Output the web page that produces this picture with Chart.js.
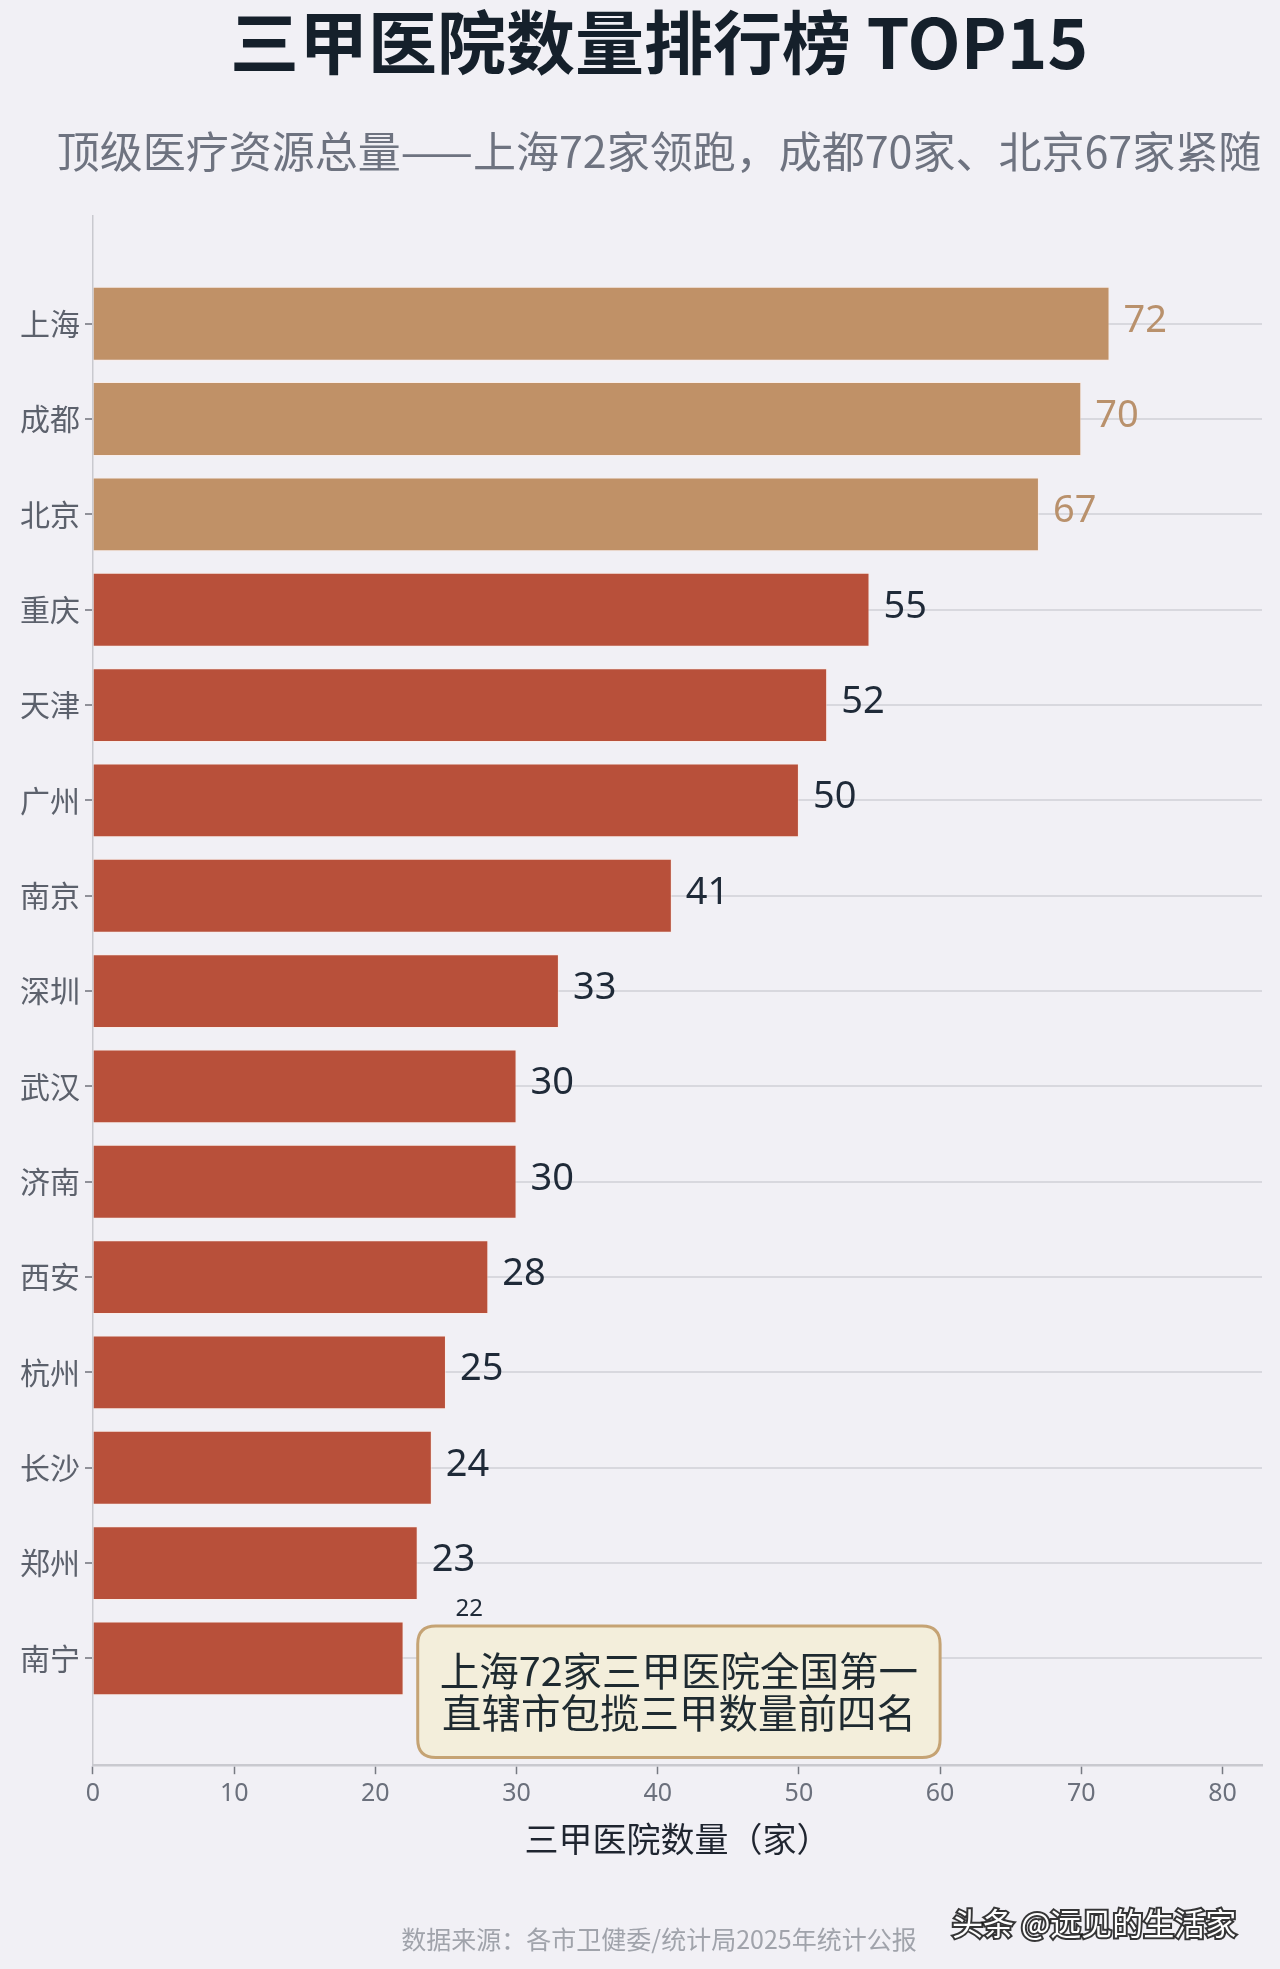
<!DOCTYPE html>
<html>
<head>
<meta charset="utf-8">
<script src="https://cdn.jsdelivr.net/npm/chart.js@4.4.1/dist/chart.umd.min.js"></script>
<style>
    body { margin: 0; background: #f1f0f5; }
    #chart { display: block; }
</style>
</head>
<body>
<canvas id="chart" width="1280" height="1969"></canvas>
<script>
// 数据
const cities = ["上海", "成都", "北京", "重庆", "天津", "广州", "南京", "深圳", "武汉", "济南", "西安", "杭州", "长沙", "郑州", "南宁"];
const hospitals = [72, 70, 67, 55, 52, 50, 41, 33, 30, 30, 28, 25, 24, 23, 22];
const xTicks = [0, 10, 20, 30, 40, 50, 60, 70, 80];
const highlightCount = 3;

const titleText = "三甲医院数量排行榜 TOP15";
const subtitleText = "顶级医疗资源总量——上海72家领跑，成都70家、北京67家紧随";
const noteLines = ["上海72家三甲医院全国第一", "直辖市包揽三甲数量前四名"];
const sourceText = "数据来源：各市卫健委/统计局2025年统计公报";
const markText = "头条 @远见的生活家";

const FONT = "'Noto Sans', 'Noto Sans CJK SC', sans-serif";
const CJK = "'Noto Sans CJK SC', 'Noto Sans', sans-serif";
const tan = "#c09167";
const red = "#b8503a";

function roundRect(ctx, x, y, w, h, r) {
    ctx.beginPath();
    ctx.moveTo(x + r, y);
    ctx.lineTo(x + w - r, y);
    ctx.quadraticCurveTo(x + w, y, x + w, y + r);
    ctx.lineTo(x + w, y + h - r);
    ctx.quadraticCurveTo(x + w, y + h, x + w - r, y + h);
    ctx.lineTo(x + r, y + h);
    ctx.quadraticCurveTo(x, y + h, x, y + h - r);
    ctx.lineTo(x, y + r);
    ctx.quadraticCurveTo(x, y, x + r, y);
    ctx.closePath();
}

// 标题、数值、注释框、来源
const decorations = {
    id: "decorations",
    beforeDraw(chart) {
        const ctx = chart.ctx;
        ctx.save();
        ctx.fillStyle = "#f1f0f5";
        ctx.fillRect(0, 0, chart.width, chart.height);
        ctx.textAlign = "center";
        ctx.textBaseline = "middle";
        ctx.fillStyle = "#15202b";
        ctx.font = "bold 69px " + CJK;
        ctx.fillText(titleText, 659, 43);
        ctx.fillStyle = "#6e7380";
        ctx.font = "43px " + CJK;
        ctx.fillText(subtitleText, 659, 152);
        ctx.restore();
    },
    afterDatasetsDraw(chart) {
        const ctx = chart.ctx;
        const meta = chart.getDatasetMeta(0);
        const xs = chart.scales.x;
        const ys = chart.scales.y;
        ctx.save();
        ctx.textBaseline = "middle";
        ctx.textAlign = "left";
        meta.data.forEach((bar, i) => {
            ctx.fillStyle = i < highlightCount ? "#b9916c" : "#1f2a38";
            if (i === meta.data.length - 1) {
                // 被注释框挡住，放到上方
                ctx.font = "24px " + FONT;
                ctx.fillText(hospitals[i], bar.x + 52, bar.y - 49);
            } else {
                ctx.font = "38px " + FONT;
                ctx.fillText(hospitals[i], bar.x + 14, bar.y - 3);
            }
        });

        // 注释框
        const left = xs.getPixelForValue(23);
        const right = xs.getPixelForValue(60);
        const top = ys.getPixelForValue(13.66);
        const bottom = ys.getPixelForValue(15.04);
        roundRect(ctx, left, top, right - left, bottom - top, 18);
        ctx.fillStyle = "#f3eedb";
        ctx.fill();
        ctx.lineWidth = 3;
        ctx.strokeStyle = "#c5a374";
        ctx.stroke();
        ctx.fillStyle = "#1e2a30";
        ctx.textAlign = "center";
        ctx.font = "39.5px " + CJK;
        const cx = (left + right) / 2;
        const cy = (top + bottom) / 2;
        ctx.fillText(noteLines[0], cx, cy - 21);
        ctx.fillText(noteLines[1], cx, cy + 21);
        ctx.restore();
    },
    afterDraw(chart) {
        const ctx = chart.ctx;
        ctx.save();
        ctx.textBaseline = "middle";
        ctx.textAlign = "center";
        ctx.fillStyle = "#a0a3ab";
        ctx.font = "25px " + CJK;
        ctx.fillText(sourceText, 659, 1939);

        // 水印
        ctx.textAlign = "left";
        ctx.font = "31px " + CJK;
        ctx.lineWidth = 4;
        ctx.strokeStyle = "rgba(20,20,20,0.85)";
        ctx.strokeText(markText, 952, 1923);
        ctx.fillStyle = "#ffffff";
        ctx.fillText(markText, 952, 1923);
        ctx.restore();
    }
};

const chartDOM = document.getElementById("chart").getContext("2d");

const data = {
    datasets: [{
        data: hospitals.map((v, i) => ({ x: v, y: i })),
        backgroundColor: hospitals.map((v, i) => i < highlightCount ? tan : red),
        borderColor: "rgba(255,235,225,0.6)",
        borderWidth: 1,
        categoryPercentage: 1,
        barPercentage: 0.775
    }]
};

const config = {
    type: "bar",
    data: data,
    options: {
        indexAxis: "y",
        responsive: false,
        animation: false,
        devicePixelRatio: 1,
        layout: {
            padding: { top: 216, left: 15, right: 18, bottom: 110 }
        },
        scales: {
            x: {
                type: "linear",
                min: 0,
                max: 82.8,
                afterBuildTicks: (axis) => {
                    axis.ticks = xTicks.map(v => ({ value: v }));
                },
                grid: {
                    drawOnChartArea: false,
                    drawTicks: true,
                    tickLength: 9,
                    tickColor: "#777a82",
                    tickWidth: 1.5
                },
                border: { color: "#c9c9cf", width: 2.5 },
                ticks: {
                    color: "#6b707c",
                    padding: 5,
                    font: { family: FONT, size: 25 }
                },
                title: {
                    display: true,
                    text: "三甲医院数量（家）",
                    color: "#1f2530",
                    padding: { top: 4, bottom: 0 },
                    font: { family: CJK, size: 34 }
                }
            },
            y: {
                type: "linear",
                reverse: true,
                offset: false,
                min: -1.13,
                max: 15.12,
                afterBuildTicks: (axis) => {
                    axis.ticks = cities.map((c, i) => ({ value: i }));
                },
                grid: {
                    offset: false,
                    color: "#d8d8de",
                    lineWidth: 2,
                    drawTicks: true,
                    tickLength: 8,
                    tickColor: "#6f727a",
                    tickWidth: 1.5
                },
                border: { color: "#c9c9cf", width: 1.5 },
                ticks: {
                    color: "#5c616c",
                    padding: 5,
                    font: { family: CJK, size: 30 },
                    callback: (value) => cities[value]
                }
            }
        },
        plugins: {
            legend: { display: false },
            tooltip: { enabled: false }
        }
    },
    plugins: [decorations]
};

const hospitalChart = new Chart(chartDOM, config);
</script>
</body>
</html>
